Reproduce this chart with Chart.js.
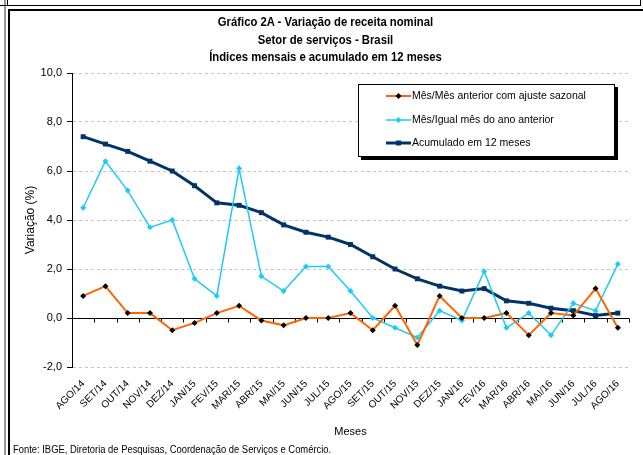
<!DOCTYPE html>
<html>
<head>
<meta charset="utf-8">
<script src="https://cdn.jsdelivr.net/npm/chart.js@4"></script>
<style>
  body { margin: 0; background: #fff; }
  #wrap { position: relative; width: 643px; height: 455px; overflow: hidden; }
  canvas { position: absolute; left: 0; top: 0; }
  .ln { position: absolute; background: #000; }
  .titulo { position: absolute; left: 8px; width: 635px; text-align: center;
    font: bold 12px "Liberation Sans", Arial, sans-serif; color: #000;
    transform: scaleX(0.94); transform-origin: 317px 0; }
  #fonte { position: absolute; left: 13px; top: 444px; white-space: nowrap;
    font: 10px "Liberation Sans", Arial, sans-serif; color: #000;
    transform: scaleX(0.94); transform-origin: 0 0; }
</style>
</head>
<body>
<div id="wrap">
  <canvas id="grafico" width="643" height="455"></canvas>
  <!-- moldura da planilha -->
  <div class="ln" style="left:4px;top:0;width:2px;height:455px;background:#999"></div>
  <div class="ln" style="left:7px;top:0;width:1px;height:5px"></div>
  <div class="ln" style="left:0;top:5px;width:640px;height:1px"></div>
  <div class="ln" style="left:640px;top:0;width:1px;height:6px"></div>
  <div class="ln" style="left:8px;top:9px;width:635px;height:2px"></div>
  <div class="ln" style="left:8px;top:9px;width:2px;height:446px"></div>
  <div class="titulo" style="top:15px">Gráfico 2A - Variação de receita nominal</div>
  <div class="titulo" style="top:33px">Setor de serviços - Brasil</div>
  <div class="titulo" style="top:50px">Índices mensais e acumulado em 12 meses</div>
  <div id="fonte">Fonte: IBGE, Diretoria de Pesquisas, Coordenação de Serviços e Comércio.</div>
</div>
<script>
// meses
const meses = ['AGO/14', 'SET/14', 'OUT/14', 'NOV/14', 'DEZ/14', 'JAN/15', 'FEV/15', 'MAR/15',
  'ABR/15', 'MAI/15', 'JUN/15', 'JUL/15', 'AGO/15', 'SET/15', 'OUT/15', 'NOV/15', 'DEZ/15',
  'JAN/16', 'FEV/16', 'MAR/16', 'ABR/16', 'MAI/16', 'JUN/16', 'JUL/16', 'AGO/16'];

// séries (%)
const mesAnterior = [0.9, 1.3, 0.2, 0.2, -0.5, -0.2, 0.2, 0.5, -0.1, -0.3, 0.0, 0.0, 0.2, -0.5,
  0.5, -1.1, 0.9, 0.0, 0.0, 0.2, -0.7, 0.2, 0.1, 1.2, -0.4];
const igualMes = [4.5, 6.4, 5.2, 3.7, 4.0, 1.6, 0.9, 6.1, 1.7, 1.1, 2.1, 2.1, 1.1, 0.0,
  -0.4, -0.8, 0.3, -0.1, 1.9, -0.4, 0.2, -0.7, 0.6, 0.3, 2.2];
const acumulado = [7.4, 7.1, 6.8, 6.4, 6.0, 5.4, 4.7, 4.6, 4.3, 3.8, 3.5, 3.3, 3.0, 2.5,
  2.0, 1.6, 1.3, 1.1, 1.2, 0.7, 0.6, 0.4, 0.3, 0.1, 0.2];

// eixo y
const yTicks = [-2, 0, 2, 4, 6, 8, 10];

const fonteEixo = "'Liberation Sans', Arial, sans-serif";

// linha do zero com as marcas do eixo x
const linhaZero = {
  id: 'linhaZero',
  beforeDatasetsDraw(chart) {
    const {ctx, chartArea, scales: {x, y}} = chart;
    const y0 = Math.round(y.getPixelForValue(0)) + 0.5;
    const meio = (x.getPixelForValue(1) - x.getPixelForValue(0)) / 2;
    ctx.save();
    ctx.strokeStyle = '#000';
    ctx.lineWidth = 1;
    ctx.beginPath();
    ctx.moveTo(chartArea.left, y0);
    ctx.lineTo(chartArea.right, y0);
    for (let i = 0; i <= meses.length; i++) {
      const px = Math.round(x.getPixelForValue(i) - meio) + 0.5;
      ctx.moveTo(px, y0);
      ctx.lineTo(px, y0 + 4);
    }
    ctx.stroke();
    ctx.restore();
  }
};

// legenda dentro da área do gráfico
function marcador(ctx, estilo, cx, cy, r, cor) {
  ctx.fillStyle = cor;
  ctx.beginPath();
  if (estilo === 'rect') {
    const s = r * Math.SQRT1_2;
    ctx.rect(cx - s, cy - s, 2 * s, 2 * s);
  } else {
    ctx.moveTo(cx, cy - r); ctx.lineTo(cx + r, cy);
    ctx.lineTo(cx, cy + r); ctx.lineTo(cx - r, cy);
    ctx.closePath();
  }
  ctx.fill();
}

const legenda = {
  id: 'legenda',
  afterDraw(chart) {
    const {ctx} = chart;
    const bx = 358, by = 84, bw = 257, bh = 73;
    ctx.save();
    ctx.fillStyle = '#000';
    ctx.fillRect(bx + 3, by + 3, bw, bh);
    ctx.fillStyle = '#fff';
    ctx.fillRect(bx, by, bw, bh);
    ctx.strokeStyle = '#000';
    ctx.lineWidth = 1;
    ctx.strokeRect(bx + 0.5, by + 0.5, bw - 1, bh - 1);
    const linhas = [96, 120, 143];
    chart.data.datasets.forEach((ds, i) => {
      const ly = linhas[i];
      ctx.strokeStyle = ds.borderColor;
      ctx.lineWidth = ds.borderWidth;
      ctx.beginPath();
      ctx.moveTo(386, ly);
      ctx.lineTo(411, ly);
      ctx.stroke();
      marcador(ctx, ds.pointStyle, 398.5, ly, ds.pointRadius, ds.pointBackgroundColor);
      ctx.fillStyle = '#000';
      ctx.font = "10.5px " + fonteEixo;
      ctx.textBaseline = 'middle';
      ctx.textAlign = 'left';
      ctx.fillText(ds.label, 412, ly);
    });
    ctx.restore();
  }
};

new Chart(document.getElementById('grafico'), {
  type: 'line',
  data: {
    labels: meses,
    datasets: [{
      label: 'Mês/Mês anterior com ajuste sazonal',
      data: mesAnterior,
      borderColor: '#FF6600',
      borderWidth: 2,
      pointStyle: 'rectRot',
      pointRadius: 3,
      pointBackgroundColor: '#000',
      pointBorderWidth: 0,
      tension: 0
    }, {
      label: 'Mês/Igual mês do ano anterior',
      data: igualMes,
      borderColor: '#1ECBF8',
      borderWidth: 1.5,
      pointStyle: 'rectRot',
      pointRadius: 3,
      pointBackgroundColor: '#1ECBF8',
      pointBorderWidth: 0,
      tension: 0
    }, {
      label: 'Acumulado em 12 meses',
      data: acumulado,
      borderColor: '#003366',
      borderWidth: 3,
      pointStyle: 'rect',
      pointRadius: 3.5,
      pointBackgroundColor: '#003366',
      pointBorderWidth: 0,
      tension: 0
    }]
  },
  options: {
    responsive: false,
    animation: false,
    events: [],
    layout: { padding: { left: 8, top: 73, right: 14, bottom: 0 } },
    plugins: {
      legend: { display: false },
      title: { display: false },
      tooltip: { enabled: false }
    },
    scales: {
      x: {
        offset: true,
        grid: { display: false, drawTicks: false },
        border: { display: false },
        ticks: {
          autoSkip: false,
          minRotation: 45,
          maxRotation: 45,
          padding: 11,
          color: '#000',
          font: { family: fonteEixo, size: 10 }
        },
        title: {
          display: true,
          text: 'Meses',
          color: '#000',
          font: { family: fonteEixo, size: 11 },
          padding: { top: 0, bottom: 16 }
        },
        afterFit(scale) { scale.height = 88; }
      },
      y: {
        min: -2,
        max: 10,
        afterBuildTicks(scale) { scale.ticks = yTicks.map(v => ({ value: v })); },
        grid: { color: '#C4C4C4', tickColor: '#000', tickLength: 5, lineWidth: 1 },
        border: { display: true, color: '#000', width: 1, dash: [3, 3] },
        ticks: {
          padding: 5,
          color: '#000',
          font: { family: fonteEixo, size: 11 },
          callback: v => v.toFixed(1).replace('.', ',')
        },
        title: {
          display: true,
          text: 'Variação (%)',
          color: '#000',
          font: { family: fonteEixo, size: 12 },
          padding: { top: 15, bottom: 0 }
        },
        afterFit(scale) { scale.width = 64; }
      }
    }
  },
  plugins: [linhaZero, legenda]
});
</script>
</body>
</html>
